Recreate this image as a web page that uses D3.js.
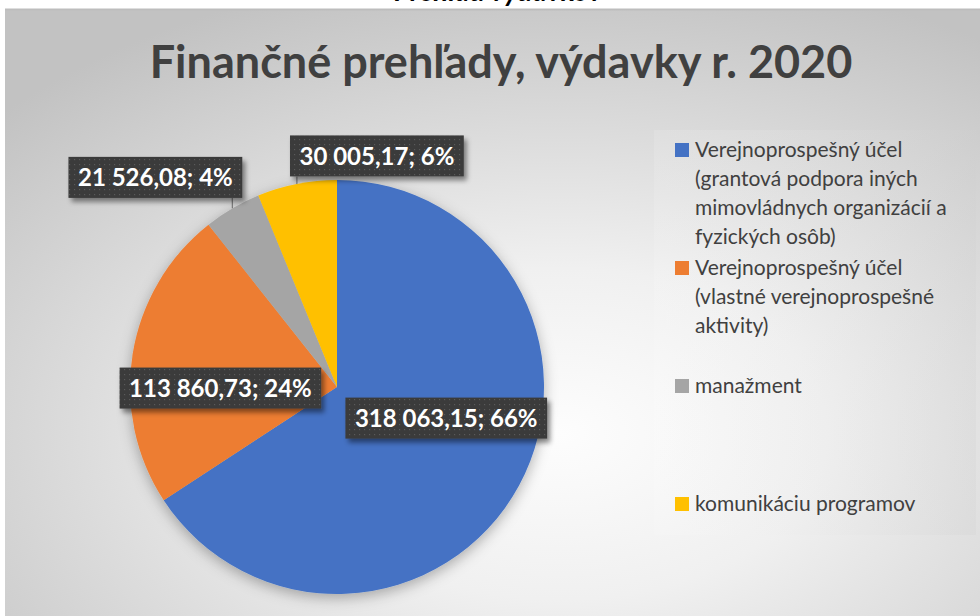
<!DOCTYPE html>
<html lang="sk">
<head>
    <meta charset="UTF-8">
    <title>Finančné prehľady, výdavky r. 2020</title>
    <style>
        html, body { margin: 0; padding: 0; background: #fff; }
        svg { display: block; }
    </style>
</head>
<body>
    <div class="box"></div>
    <script src="https://d3js.org/d3.v7.min.js"></script>
    <script>
        // dáta
        const categories = [
            'Verejnoprospešný účel (grantová podpora)',
            'Verejnoprospešný účel (vlastné aktivity)',
            'manažment',
            'komunikáciu programov'
        ];
        const values = [318063.15, 113860.73, 21526.08, 30005.17];
        const legendLines = [
            ['Verejnoprospešný účel', '(grantová podpora iných', 'mimovládnych organizácií a', 'fyzických osôb)'],
            ['Verejnoprospešný účel', '(vlastné verejnoprospešné', 'aktivity)'],
            ['manažment'],
            ['komunikáciu programov']
        ];
        const colors = ['#4472C4', '#ED7D31', '#A5A5A5', '#FFC000'];
        const title = 'Finančné prehľady, výdavky r. 2020';
        const topTitle = 'Prehľad výdavkov';

        // umiestnenie popisiek (polomer ako násobok r, posun)
        const labelPlace = [
            { k: 0.6, dx: 0, dy: -28, outside: false },
            { k: 0.6, dx: 6, dy: 21, outside: false },
            { k: 1.0, dx: -77, dy: -31, outside: true },
            { k: 1.0, dx: 80, dy: -28, outside: true }
        ];

        const width = 980, height = 616;
        const svg = d3.select('.box').append('svg')
            .attr('width', width)
            .attr('height', height);

        const defs = svg.append('defs');

        const bg = defs.append('radialGradient').attr('id', 'bg')
            .attr('cx', '57%').attr('cy', '70%').attr('r', '78%');
        bg.append('stop').attr('offset', '0%').attr('stop-color', '#fdfdfd');
        bg.append('stop').attr('offset', '35%').attr('stop-color', '#f0f0f0');
        bg.append('stop').attr('offset', '100%').attr('stop-color', '#c2c2c2');

        const lg = defs.append('linearGradient').attr('id', 'lg')
            .attr('x1', '0%').attr('x2', '100%').attr('y1', '0%').attr('y2', '0%');
        lg.append('stop').attr('offset', '0%').attr('stop-color', '#ffffff').attr('stop-opacity', 0.12);
        lg.append('stop').attr('offset', '100%').attr('stop-color', '#cfcfcf').attr('stop-opacity', 0.25);

        const pat = defs.append('pattern').attr('id', 'dots')
            .attr('width', 5).attr('height', 5)
            .attr('patternUnits', 'userSpaceOnUse');
        pat.append('rect').attr('width', 5).attr('height', 5).attr('fill', '#3a3a3a');
        pat.append('rect').attr('x', 2).attr('y', 2).attr('width', 1.2).attr('height', 1.2).attr('fill', '#5a5a5a');

        const pieShadow = defs.append('filter').attr('id', 'pieShadow')
            .attr('x', '-20%').attr('y', '-20%').attr('width', '140%').attr('height', '140%');
        pieShadow.append('feDropShadow').attr('dx', 0).attr('dy', 4)
            .attr('stdDeviation', 7).attr('flood-color', '#000').attr('flood-opacity', 0.3);

        const boxShadow = defs.append('filter').attr('id', 'boxShadow')
            .attr('x', '-20%').attr('y', '-30%').attr('width', '140%').attr('height', '170%');
        boxShadow.append('feDropShadow').attr('dx', 3).attr('dy', 4)
            .attr('stdDeviation', 2.5).attr('flood-color', '#000').attr('flood-opacity', 0.45);

        // orezaný nadpis hore
        svg.append('text')
            .text(topTitle)
            .attr('x', 498).attr('y', 1)
            .attr('text-anchor', 'middle')
            .attr('font-family', 'Lato, "Open Sans", sans-serif')
            .attr('font-weight', 'bold')
            .attr('font-style', 'italic')
            .attr('font-size', 28)
            .attr('fill', '#000');

        // pozadie grafu
        svg.append('rect')
            .attr('x', 5).attr('y', 9)
            .attr('width', width - 5).attr('height', height - 9)
            .attr('fill', 'url(#bg)');
        svg.append('line')
            .attr('x1', 5).attr('x2', width).attr('y1', 9.5).attr('y2', 9.5)
            .attr('stroke', '#bdbdbd').attr('stroke-width', 2);

        // nadpis
        svg.append('text')
            .text(title)
            .attr('x', 501).attr('y', 78)
            .attr('text-anchor', 'middle')
            .attr('font-family', 'Lato, "Open Sans", sans-serif')
            .attr('font-weight', 'bold')
            .attr('font-size', 45)
            .attr('fill', '#404040');

        // legenda - podklad
        svg.append('rect')
            .attr('x', 654).attr('y', 130)
            .attr('width', 322).attr('height', 405)
            .attr('fill', 'url(#lg)');

        // koláč
        const cx = 337, cy = 387, r = 207;
        const total = d3.sum(values);
        const pie = d3.pie().sort(null).value(d => d);
        const arcs = pie(values);
        const arc = d3.arc().innerRadius(0).outerRadius(r);

        const g = svg.append('g').attr('transform', `translate(${cx}, ${cy})`);
        g.append('g').attr('filter', 'url(#pieShadow)')
            .selectAll('path').data(arcs).join('path')
            .attr('d', arc)
            .attr('fill', (d, i) => colors[i]);

        // popisky
        const locale = d3.formatLocale({ decimal: ',', thousands: ' ', grouping: [3], currency: ['', ''] });
        const fmt = locale.format(',.2f');
        const labelText = v => `${fmt(v)}; ${Math.round(v / total * 100)}%`;

        const polar = (a, rr) => [Math.sin(a) * rr, -Math.cos(a) * rr];

        arcs.forEach((d, i) => {
            const p = labelPlace[i];
            const mid = (d.startAngle + d.endAngle) / 2;
            const base = polar(mid, r * p.k);
            const lx = base[0] + p.dx, ly = base[1] + p.dy;

            const lab = g.append('g');
            const t = lab.append('text')
                .text(labelText(d.data))
                .attr('x', lx).attr('y', ly)
                .attr('dy', '0.36em')
                .attr('text-anchor', 'middle')
                .attr('font-family', 'Lato, "Open Sans", sans-serif')
                .attr('font-weight', 'bold')
                .attr('font-size', 24)
                .attr('fill', '#fff');
            const tw = t.node().getComputedTextLength();
            const bw = tw + 19, bh = 41;
            lab.insert('rect', 'text')
                .attr('x', lx - bw / 2).attr('y', ly - bh / 2)
                .attr('width', bw).attr('height', bh)
                .attr('fill', 'url(#dots)')
                .attr('filter', 'url(#boxShadow)');

            if (p.outside) {
                const edge = polar(mid, r);
                const bx = Math.max(lx - bw / 2 + 6, Math.min(lx + bw / 2 - 10, edge[0]));
                g.insert('line', 'g')
                    .attr('x1', edge[0]).attr('y1', edge[1])
                    .attr('x2', bx + (edge[0] < bx ? 3 : 0)).attr('y2', ly + bh / 2)
                    .attr('stroke', '#7f7f7f').attr('stroke-width', 1.2);
            }
        });

        // legenda
        const yLeg = d3.scalePoint().domain(categories).range([150, 504]);
        const legend = svg.append('g').attr('class', 'legend');
        const item = legend.selectAll('g').data(categories).join('g')
            .attr('transform', d => `translate(675, ${yLeg(d)})`);
        item.append('rect')
            .attr('x', 0).attr('y', -7)
            .attr('width', 14).attr('height', 14)
            .attr('fill', (d, i) => colors[i]);
        item.append('text')
            .attr('font-family', 'Lato, "Open Sans", sans-serif')
            .attr('font-size', 21)
            .attr('fill', '#404040')
            .selectAll('tspan').data((d, i) => legendLines[i]).join('tspan')
            .attr('x', 20)
            .attr('y', (d, j) => 7 + j * 29)
            .text(d => d);
    </script>
</body>
</html>
